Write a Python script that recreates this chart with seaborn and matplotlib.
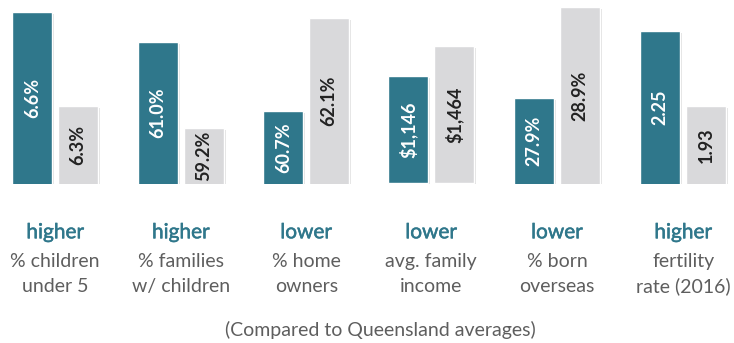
import matplotlib
matplotlib.use("Agg")
import matplotlib.pyplot as plt
import matplotlib.patheffects as pe
import seaborn as sns
import pandas as pd

# Local area vs Queensland figures
measures = ["% children\nunder 5", "% families\nw/ children", "% home\nowners",
            "avg. family\nincome", "% born\noverseas", "fertility\nrate (2016)"]
comparison = ["higher", "higher", "lower", "lower", "lower", "higher"]
local_values = [6.6, 61.0, 60.7, 1146, 27.9, 2.25]
qld_values = [6.3, 59.2, 62.1, 1464, 28.9, 1.93]
local_labels = ["6.6%", "61.0%", "60.7%", r"\$1,146", "27.9%", "2.25"]
qld_labels = ["6.3%", "59.2%", "62.1%", r"\$1,464", "28.9%", "1.93"]
footnote = "(Compared to Queensland averages)"

# Each panel shows a truncated value range so the difference stands out
y_ranges = [(6.051, 6.637), (58.016, 61.873), (59.592, 62.366),
            (-16.79, 1956.5), (26.961, 28.973), (1.597, 2.381)]

TEAL = "#2F778B"
GREY = "#D9D9DB"
TEXT_GREY = "#5E5E5E"

sns.set_theme(style="white")
plt.rcParams["font.family"] = ["Lato", "DejaVu Sans"]

W, H = 734, 343
fig = plt.figure(figsize=(W / 100, H / 100), dpi=100)

centers = [55.2, 180.8, 306.2, 431.2, 557.0, 683.2]
base_px = 184.3
panel_w = 100

for i, cx in enumerate(centers):
    ax = fig.add_axes([(cx - panel_w / 2) / W, 1 - base_px / H,
                       panel_w / W, base_px / H])
    df = pd.DataFrame({"area": ["local", "qld"],
                       "value": [local_values[i], qld_values[i]]})
    sns.barplot(data=df, x="area", y="value", hue="area",
                palette=[TEAL, GREY], saturation=1, width=0.873,
                legend=False, ax=ax)
    lo, hi = y_ranges[i]
    ax.set_ylim(lo, hi)
    ax.set_xlim(-0.592, 1.592)
    ax.set_axis_off()
    for p in ax.patches:
        p.set_path_effects([pe.SimplePatchShadow(offset=(1.5, -1.5),
                                                 shadow_rgbFace="black",
                                                 alpha=0.12),
                            pe.Normal()])
    ax.text(0, (lo + local_values[i]) / 2, local_labels[i], rotation=90,
            ha="center", va="center", color="white", fontsize=13,
            fontweight="bold")
    ax.text(1, (lo + qld_values[i]) / 2, qld_labels[i], rotation=90,
            ha="center", va="center", color="#222222", fontsize=13,
            fontweight="bold")

    # Text beneath each pair of bars
    fig.text(cx / W, 1 - 238.3 / H, comparison[i], ha="center",
             va="baseline", color=TEAL, fontsize=15, fontweight="normal",
             path_effects=[pe.withStroke(linewidth=0.35, foreground=TEAL)])
    line1, line2 = measures[i].split("\n")
    fig.text(cx / W, 1 - 267.3 / H, line1, ha="center", va="baseline",
             color=TEXT_GREY, fontsize=14)
    fig.text(cx / W, 1 - 291.7 / H, line2, ha="center", va="baseline",
             color=TEXT_GREY, fontsize=14)

fig.text(380 / W, 1 - 336 / H, footnote, ha="center", va="baseline",
         color=TEXT_GREY, fontsize=14)

fig.savefig("out.png", dpi=100)
